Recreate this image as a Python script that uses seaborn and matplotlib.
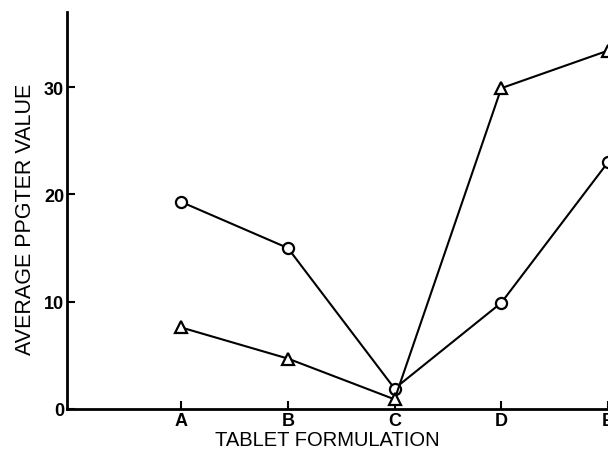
import matplotlib
matplotlib.use("Agg")
import matplotlib.pyplot as plt
import seaborn as sns
import pandas as pd

categories = ["A", "B", "C", "D", "E"]
circle_values = [19.3, 15.0, 1.9, 9.9, 23.0]
triangle_values = [7.6, 4.7, 0.9, 29.9, 33.4]
series_names = ["circle", "triangle"]
y_ticks = [0, 10, 20, 30]

sns.set_theme(style="ticks")
plt.rcParams["font.family"] = ["Liberation Sans", "DejaVu Sans"]

rows = []
for i, c in enumerate(categories):
    rows.append({"pos": i, "value": circle_values[i], "series": series_names[0]})
    rows.append({"pos": i, "value": triangle_values[i], "series": series_names[1]})
df = pd.DataFrame(rows)

fig = plt.figure(figsize=(6.08, 4.56), dpi=100)
ax = fig.add_axes([67 / 608, 1 - 410 / 456, 1 - 67 / 608, (410 - 13) / 456])

sns.lineplot(data=df, x="pos", y="value", hue="series", style="series",
             markers={"circle": "o", "triangle": "^"}, dashes=False,
             palette={"circle": "black", "triangle": "black"},
             markersize=8, markerfacecolor="white", markeredgecolor="black",
             markeredgewidth=1.6, linewidth=1.5, legend=False, ax=ax, clip_on=False)

ax.set_xlim(-1.07, 4.0)
ax.set_ylim(0, 37)
ax.set_xticks(range(len(categories)))
ax.set_xticklabels(categories)
ax.set_yticks(y_ticks)
ax.tick_params(direction="in", length=6, width=1.5, labelsize=13, pad=2, colors="black")
for lab in ax.get_xticklabels() + ax.get_yticklabels():
    lab.set_fontweight("bold")
sns.despine(ax=ax)
ax.spines["left"].set_linewidth(2)
ax.spines["bottom"].set_linewidth(2)
ax.spines["left"].set_color("black")
ax.spines["bottom"].set_color("black")
ax.set_xlabel("TABLET FORMULATION", fontsize=14.5, color="black")
ax.set_ylabel("AVERAGE PPGTER VALUE", fontsize=15.5, color="black")
ax.xaxis.set_label_coords(0.482, -0.053)
ax.yaxis.set_label_coords(-0.058, 0.48)

fig.savefig("out.png", dpi=100)
